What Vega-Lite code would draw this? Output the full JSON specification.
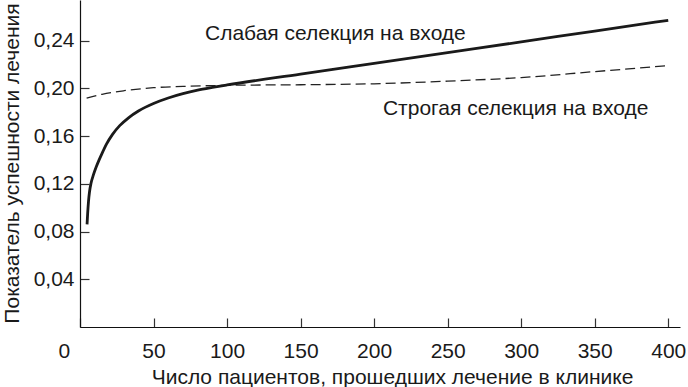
{
  "$schema": "https://vega.github.io/schema/vega-lite/v6.json",
  "width": 600,
  "height": 327,
  "autosize": {"type": "none"},
  "padding": {"left": 80, "top": 0, "right": 8, "bottom": 60},
  "background": "white",
  "config": {
    "view": {"stroke": null},
    "font": "Liberation Sans",
    "axis": {"grid": false, "domainColor": "#111", "domainWidth": 1.2, "tickColor": "#333", "tickWidth": 1.2, "labelColor": "#1a1a1a", "titleColor": "#1a1a1a", "labelFont": "Liberation Sans", "titleFont": "Liberation Sans", "titleFontWeight": "normal"}
  },
  "datasets": {
    "weak": [
      {"n": 4.8, "r": 0.086}, {"n": 5.2, "r": 0.095}, {"n": 5.8, "r": 0.1055}, {"n": 6.5, "r": 0.1135},
      {"n": 7.5, "r": 0.1205}, {"n": 9, "r": 0.127}, {"n": 11, "r": 0.134}, {"n": 13, "r": 0.14},
      {"n": 15, "r": 0.1455}, {"n": 18, "r": 0.1532}, {"n": 22, "r": 0.1612}, {"n": 27, "r": 0.1687},
      {"n": 33, "r": 0.1753}, {"n": 40, "r": 0.1812}, {"n": 50, "r": 0.1873}, {"n": 60, "r": 0.1919},
      {"n": 70, "r": 0.1955}, {"n": 80, "r": 0.1984}, {"n": 90, "r": 0.2007}, {"n": 100, "r": 0.2028},
      {"n": 150, "r": 0.2119}, {"n": 200, "r": 0.2209}, {"n": 250, "r": 0.2299}, {"n": 300, "r": 0.2389},
      {"n": 350, "r": 0.248}, {"n": 400, "r": 0.257}
    ],
    "strict": [
      {"n": 4.5, "r": 0.1917}, {"n": 15, "r": 0.195}, {"n": 30, "r": 0.198}, {"n": 50, "r": 0.2005},
      {"n": 75, "r": 0.2018}, {"n": 100, "r": 0.2025}, {"n": 150, "r": 0.203}, {"n": 200, "r": 0.2038},
      {"n": 250, "r": 0.206}, {"n": 300, "r": 0.209}, {"n": 350, "r": 0.214}, {"n": 400, "r": 0.219}
    ],
    "labels": [
      {"n": 85, "r": 0.2456, "label": "Слабая селекция на входе"},
      {"n": 206, "r": 0.1827, "label": "Строгая селекция на входе"}
    ]
  },
  "encoding": {
    "x": {
      "field": "n", "type": "quantitative",
      "scale": {"domain": [0, 408], "nice": false, "zero": true},
      "axis": {
        "values": [0, 50, 100, 150, 200, 250, 300, 350, 400],
        "title": "Число пациентов, прошедших лечение в клинике",
        "labelFontSize": 21, "titleFontSize": 21,
        "tickSize": -9, "labelPadding": 22,
        "labelOffset": {"condition": {"test": "datum.value === 0", "value": -22}, "value": 0},
        "titleX": 312, "titleY": 56, "titleBaseline": "alphabetic", "titleAlign": "center"
      }
    },
    "y": {
      "field": "r", "type": "quantitative",
      "scale": {"domain": [0, 0.274], "nice": false},
      "axis": {
        "values": [0.04, 0.08, 0.12, 0.16, 0.2, 0.24],
        "labelExpr": "replace(format(datum.value, '.2f'), '.', ',')",
        "title": "Показатель успешности лечения",
        "labelFontSize": 21, "titleFontSize": 21,
        "tickSize": -9, "labelPadding": 15,
        "titleAngle": -90, "titleX": -68, "titleY": 163, "titleAlign": "center", "titleBaseline": "middle"
      }
    }
  },
  "layer": [
    {"data": {"name": "strict"}, "mark": {"type": "line", "interpolate": "monotone", "color": "#222", "strokeWidth": 1.3, "strokeDash": [10, 5]}},
    {"data": {"name": "weak"}, "mark": {"type": "line", "interpolate": "monotone", "color": "#1a1a1a", "strokeWidth": 2.8}},
    {"data": {"name": "labels"}, "mark": {"type": "text", "align": "left", "baseline": "middle", "fontSize": 21, "font": "Liberation Sans", "color": "#1a1a1a"}, "encoding": {"text": {"field": "label"}}}
  ]
}
